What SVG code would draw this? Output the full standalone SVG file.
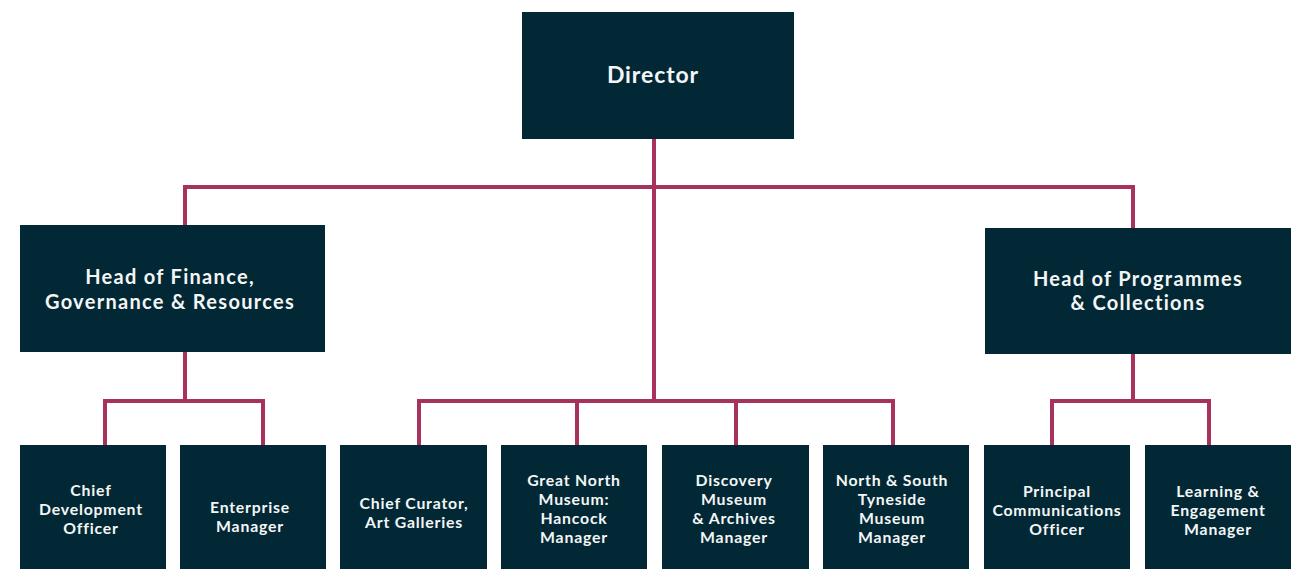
<svg xmlns="http://www.w3.org/2000/svg" width="1294" height="569" viewBox="0 0 1294 569">
<style>
.box{fill:#022835}
.t{fill:#f4f6f6;font-family:Lato,"Noto Sans",sans-serif;font-weight:700;text-anchor:middle}
.t1{font-size:23px;letter-spacing:0.9px}
.t2{font-size:20px;letter-spacing:1.3px}
.t3{font-size:15.8px;letter-spacing:0.8px}
.ln{fill:none;stroke:#a8325e;stroke-width:4;stroke-linejoin:miter;stroke-linecap:square}
</style>
<rect width="1294" height="569" fill="#ffffff"/>
<g id="connectors">
<path class="ln" d="M654 139 V401"/>
<path class="ln" d="M185 225 V187 H1133 V228"/>
<path class="ln" d="M185 352 V401"/>
<path class="ln" d="M105 445 V401 H263 V445"/>
<path class="ln" d="M419 445 V401 H893 V445"/>
<path class="ln" d="M577 401 V445"/>
<path class="ln" d="M736 401 V445"/>
<path class="ln" d="M1133 354 V401"/>
<path class="ln" d="M1052 445 V401 H1209 V445"/>
</g>
<g id="director"><rect class="box" x="522" y="12" width="272" height="127"/><text class="t t1" x="653" y="83">Director</text></g>
<g id="head-finance"><rect class="box" x="20" y="225" width="305" height="127"/><text class="t t2" x="170" y="284">Head of Finance,</text><text class="t t2" x="170" y="309">Governance &amp; Resources</text></g>
<g id="head-programmes"><rect class="box" x="985" y="228" width="306" height="126"/><text class="t t2" x="1138" y="286">Head of Programmes</text><text class="t t2" x="1138" y="310">&amp; Collections</text></g>
<g id="chief-development"><rect class="box" x="20" y="445" width="146" height="124"/><text class="t t3" x="91" y="496">Chief</text><text class="t t3" x="91" y="515">Development</text><text class="t t3" x="91" y="534">Officer</text></g>
<g id="enterprise"><rect class="box" x="180" y="445" width="146" height="124"/><text class="t t3" x="250" y="513">Enterprise</text><text class="t t3" x="250" y="532">Manager</text></g>
<g id="chief-curator"><rect class="box" x="340" y="445" width="147" height="124"/><text class="t t3" x="414" y="509">Chief Curator,</text><text class="t t3" x="414" y="528">Art Galleries</text></g>
<g id="great-north"><rect class="box" x="501" y="445" width="146" height="124"/><text class="t t3" x="574" y="486">Great North</text><text class="t t3" x="574" y="505">Museum:</text><text class="t t3" x="574" y="524">Hancock</text><text class="t t3" x="574" y="543">Manager</text></g>
<g id="discovery"><rect class="box" x="662" y="445" width="147" height="124"/><text class="t t3" x="734" y="486">Discovery</text><text class="t t3" x="734" y="505">Museum</text><text class="t t3" x="734" y="524">&amp; Archives</text><text class="t t3" x="734" y="543">Manager</text></g>
<g id="tyneside"><rect class="box" x="823" y="445" width="146" height="124"/><text class="t t3" x="892" y="486">North &amp; South</text><text class="t t3" x="892" y="505">Tyneside</text><text class="t t3" x="892" y="524">Museum</text><text class="t t3" x="892" y="543">Manager</text></g>
<g id="communications"><rect class="box" x="984" y="445" width="146" height="124"/><text class="t t3" x="1057" y="497">Principal</text><text class="t t3" x="1057" y="516">Communications</text><text class="t t3" x="1057" y="535">Officer</text></g>
<g id="learning"><rect class="box" x="1145" y="445" width="146" height="124"/><text class="t t3" x="1218" y="497">Learning &amp;</text><text class="t t3" x="1218" y="516">Engagement</text><text class="t t3" x="1218" y="535">Manager</text></g>
</svg>
